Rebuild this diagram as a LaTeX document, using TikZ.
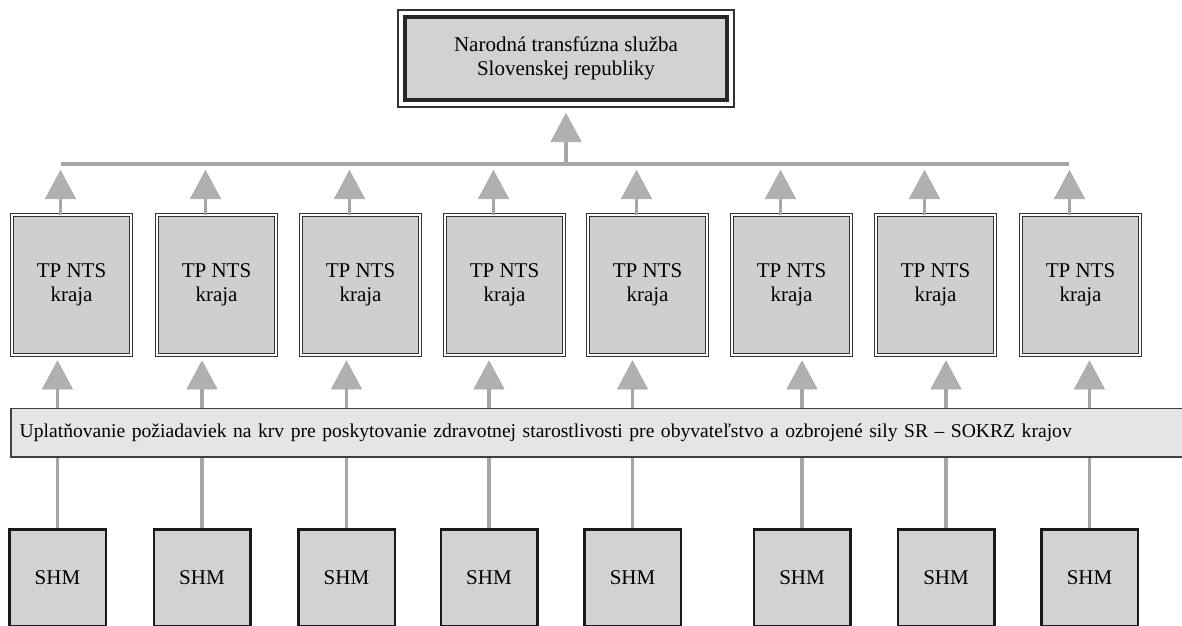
\documentclass[tikz,border=0pt]{standalone}
\usepackage{fontspec}
\setmainfont{Liberation Serif}
\usetikzlibrary{arrows.meta}

\newcommand\chartfont{\fontsize{21}{24}\selectfont}
\newcommand\bandfont{\fontsize{19.6}{23}\selectfont}

\tikzset{
  ntsbox/.style={draw=black!85,line width=4pt,fill=gray!35,minimum width=322pt,minimum height=83pt,align=center,inner sep=0pt},
  tpbox/.style={draw=black!80,double,double distance=2pt,line width=1.2pt,fill=gray!38,minimum width=118.6pt,minimum height=139.6pt,align=center,inner sep=0pt},
  bandbox/.style={draw=black!75,line width=1.5pt,fill=gray!20,minimum height=48.5pt,text width=1182pt,inner xsep=9pt,inner ysep=0pt,align=left,font=\bandfont},
  shmbox/.style={draw=black!90,line width=2.5pt,fill=gray!35,minimum width=96.5pt,minimum height=97pt,inner sep=0pt},
  bus/.style={draw=gray!70,line width=4pt},
  link/.style={draw=gray!70,line width=3.5pt},
  flow/.style={draw=gray!70,line width=3.5pt,-{Triangle[width=31pt,length=29pt,line width=0.6pt,fill=gray!62]}}
}

\begin{document}
\begin{tikzpicture}[x=1pt,y=-1pt,font=\chartfont]
\useasboundingbox (0,0) rectangle (1182,625);
\clip (0,0) rectangle (1182,625);

% national service
\node[ntsbox] (nts) at (566,58.5) {Narodná transfúzna služba\\Slovenskej republiky};
\draw[line width=1.2pt,black!80] ([shift={(-5pt,-5pt)}]nts.south west) rectangle ([shift={(5pt,5pt)}]nts.north east);

% regional units
\node[tpbox] (t1) at (71.5,285) {TP NTS\\kraja};
\node[tpbox] (t2) at (216.5,285) {TP NTS\\kraja};
\node[tpbox] (t3) at (360.5,285) {TP NTS\\kraja};
\node[tpbox] (t4) at (504.5,285) {TP NTS\\kraja};
\node[tpbox] (t5) at (647.5,285) {TP NTS\\kraja};
\node[tpbox] (t6) at (791.5,285) {TP NTS\\kraja};
\node[tpbox] (t7) at (935.5,285) {TP NTS\\kraja};
\node[tpbox] (t8) at (1080.5,285) {TP NTS\\kraja};

% requirements band
\node[bandbox] (band) at (610.75,432.5) {Uplatňovanie požiadaviek na krv pre poskytovanie zdravotnej starostlivosti pre obyvateľstvo a ozbrojené sily SR -- SOKRZ krajov};

% SHM units
\node[shmbox] (s1) at (57.5,578) {SHM};
\node[shmbox] (s2) at (202,578) {SHM};
\node[shmbox] (s3) at (346.5,578) {SHM};
\node[shmbox] (s4) at (489,578) {SHM};
\node[shmbox] (s5) at (632.5,578) {SHM};
\node[shmbox] (s6) at (802,578) {SHM};
\node[shmbox] (s7) at (946,578) {SHM};
\node[shmbox] (s8) at (1089.5,578) {SHM};

% bus to the top
\coordinate (busL) at (61,164);
\coordinate (busR) at (1069,164);
\draw[bus] (busL) -- (busR);
\draw[flow,shorten >=11pt] (nts.south |- busL) -- (nts.south);

\draw[flow,shorten >=6pt] ([xshift=-11pt]t1.north) -- ([xshift=-11pt]t1.north |- busL);
\draw[flow,shorten >=6pt] ([xshift=-11pt]t2.north) -- ([xshift=-11pt]t2.north |- busL);
\draw[flow,shorten >=6pt] ([xshift=-11pt]t3.north) -- ([xshift=-11pt]t3.north |- busL);
\draw[flow,shorten >=6pt] ([xshift=-11pt]t4.north) -- ([xshift=-11pt]t4.north |- busL);
\draw[flow,shorten >=6pt] ([xshift=-11pt]t5.north) -- ([xshift=-11pt]t5.north |- busL);
\draw[flow,shorten >=6pt] ([xshift=-11pt]t6.north) -- ([xshift=-11pt]t6.north |- busL);
\draw[flow,shorten >=6pt] ([xshift=-11pt]t7.north) -- ([xshift=-11pt]t7.north |- busL);
\draw[flow,shorten >=6pt] ([xshift=-11pt]t8.north) -- ([xshift=-11pt]t8.north |- busL);

% band up to regional units
\draw[flow,shorten >=5pt] (s1 |- band.north) -- (s1 |- t1.south);
\draw[flow,shorten >=5pt] (s2 |- band.north) -- (s2 |- t2.south);
\draw[flow,shorten >=5pt] (s3 |- band.north) -- (s3 |- t3.south);
\draw[flow,shorten >=5pt] (s4 |- band.north) -- (s4 |- t4.south);
\draw[flow,shorten >=5pt] (s5 |- band.north) -- (s5 |- t5.south);
\draw[flow,shorten >=5pt] (s6 |- band.north) -- (s6 |- t6.south);
\draw[flow,shorten >=5pt] (s7 |- band.north) -- (s7 |- t7.south);
\draw[flow,shorten >=5pt] (s8 |- band.north) -- (s8 |- t8.south);

% SHM up to band
\draw[link] (s1.north) -- (s1 |- band.south);
\draw[link] (s2.north) -- (s2 |- band.south);
\draw[link] (s3.north) -- (s3 |- band.south);
\draw[link] (s4.north) -- (s4 |- band.south);
\draw[link] (s5.north) -- (s5 |- band.south);
\draw[link] (s6.north) -- (s6 |- band.south);
\draw[link] (s7.north) -- (s7 |- band.south);
\draw[link] (s8.north) -- (s8 |- band.south);
\end{tikzpicture}
\end{document}
